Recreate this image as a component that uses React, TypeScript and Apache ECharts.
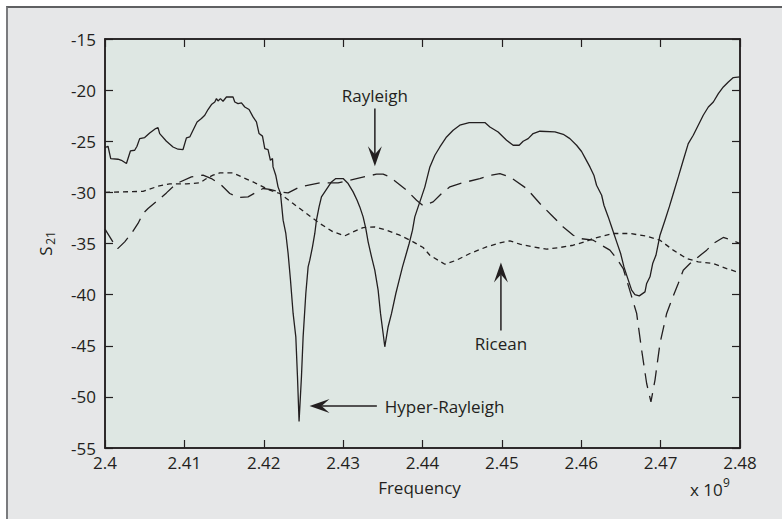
import React, { useEffect, useRef } from "react";
import * as echarts from "echarts";

// Frequency axis (x 10^9 Hz) and S21 axis (dB) tick values
const freqTicks = [2.4, 2.41, 2.42, 2.43, 2.44, 2.45, 2.46, 2.47, 2.48];
const s21Ticks = [-55, -50, -45, -40, -35, -30, -25, -20, -15];

// Measured S21 traces: [frequency (x 10^9 Hz), S21 (dB)]
const hyperRayleigh: [number, number][] = [
  [2.4, -25.62], [2.40038, -25.49], [2.40072, -26.69], [2.40164, -26.76], [2.40207, -26.86],
  [2.4027, -27.18], [2.4032, -25.95], [2.40374, -25.88], [2.40403, -25.49], [2.40437, -24.74],
  [2.405, -24.64], [2.40563, -24.19], [2.40639, -23.76], [2.40668, -23.67], [2.40689, -24.25],
  [2.40774, -25.0], [2.40857, -25.56], [2.4092, -25.78], [2.40983, -25.81], [2.41026, -24.67],
  [2.41068, -24.58], [2.41109, -23.92], [2.4116, -23.11], [2.41215, -22.78], [2.41257, -22.46],
  [2.41298, -21.9], [2.41341, -21.41], [2.41383, -21.16], [2.41404, -20.83], [2.41424, -21.06],
  [2.41454, -20.83], [2.41487, -21.09], [2.4153, -20.67], [2.41613, -20.67], [2.41635, -21.16],
  [2.41676, -21.32], [2.41719, -21.25], [2.41761, -21.65], [2.41815, -21.9], [2.41865, -22.62],
  [2.41908, -23.11], [2.41941, -24.25], [2.41984, -24.5], [2.42013, -25.72], [2.42054, -25.81],
  [2.42084, -26.86], [2.4211, -26.69], [2.42117, -27.51], [2.42151, -28.32], [2.4218, -29.46],
  [2.42211, -30.11], [2.42244, -32.72], [2.42278, -34.02], [2.42307, -35.98], [2.42337, -38.59],
  [2.4237, -41.84], [2.42404, -44.13], [2.42425, -48.04], [2.42445, -52.4], [2.42475, -48.04],
  [2.42496, -44.13], [2.4253, -39.89], [2.42559, -37.29], [2.4258, -36.63], [2.42614, -35.33],
  [2.42643, -34.02], [2.42664, -32.72], [2.42697, -31.42], [2.42727, -30.44], [2.42769, -29.95],
  [2.42811, -29.46], [2.42853, -28.98], [2.42908, -28.65], [2.43, -28.65], [2.43063, -29.14],
  [2.43126, -29.95], [2.43176, -30.77], [2.4321, -31.42], [2.43252, -32.4], [2.43286, -33.54],
  [2.43315, -34.84], [2.43358, -36.31], [2.43399, -37.61], [2.43441, -39.56], [2.43471, -41.84],
  [2.43504, -43.8], [2.43525, -45.1], [2.43567, -43.14], [2.4361, -41.84], [2.43664, -39.89],
  [2.43706, -38.59], [2.43748, -37.29], [2.4379, -36.15], [2.43832, -35.0], [2.43874, -33.7],
  [2.43903, -32.4], [2.43945, -31.42], [2.43988, -30.44], [2.4403, -29.46], [2.44051, -28.8],
  [2.44093, -27.51], [2.44156, -26.37], [2.44219, -25.56], [2.44303, -24.58], [2.44386, -23.92],
  [2.4447, -23.43], [2.44588, -23.17], [2.44786, -23.17], [2.44849, -23.6], [2.44953, -24.09],
  [2.45059, -24.9], [2.45142, -25.39], [2.45218, -25.39], [2.45268, -25.0], [2.45331, -24.74],
  [2.45394, -24.25], [2.45479, -24.02], [2.45668, -24.09], [2.45773, -24.32], [2.45857, -24.74],
  [2.45941, -25.39], [2.46004, -26.0], [2.46046, -26.6], [2.46109, -27.51], [2.46159, -28.32],
  [2.46193, -29.3], [2.46257, -30.28], [2.46286, -31.26], [2.4634, -32.4], [2.46383, -33.38],
  [2.46446, -34.84], [2.46496, -35.98], [2.46538, -37.29], [2.46579, -38.26], [2.46635, -39.56],
  [2.46676, -39.99], [2.46731, -40.12], [2.46803, -39.73], [2.46824, -38.91], [2.46866, -38.26],
  [2.469, -36.96], [2.46941, -36.15], [2.46992, -34.19], [2.47055, -32.72], [2.47109, -31.42],
  [2.4716, -30.11], [2.47223, -28.49], [2.47285, -26.86], [2.47348, -25.23], [2.47411, -24.41],
  [2.47474, -23.43], [2.47537, -22.46], [2.47601, -21.65], [2.47664, -21.16], [2.47727, -20.34],
  [2.4779, -19.69], [2.47853, -19.2], [2.47916, -18.77], [2.48, -18.71],
];

const rayleigh: [number, number][] = [
  [2.4, -33.6], [2.40135, -35.3], [2.4016, -35.5], [2.40248, -34.84], [2.40333, -34.02],
  [2.40416, -33.04], [2.40479, -32.07], [2.40542, -31.58], [2.40668, -30.77], [2.40774, -30.05],
  [2.409, -29.14], [2.41089, -28.49], [2.41235, -28.32], [2.41341, -28.65], [2.41467, -29.3],
  [2.41572, -30.11], [2.41676, -30.5], [2.41802, -30.44], [2.41991, -29.62], [2.42076, -29.7],
  [2.42202, -29.95], [2.42307, -30.05], [2.42454, -29.46], [2.42706, -29.07], [2.42937, -29.07],
  [2.43169, -28.65], [2.43421, -28.22], [2.43504, -28.22], [2.43588, -28.49], [2.43799, -29.79],
  [2.43925, -30.77], [2.44008, -31.3], [2.44134, -30.93], [2.4424, -30.11], [2.44345, -29.46],
  [2.4447, -29.14], [2.44722, -28.65], [2.4487, -28.32], [2.44975, -28.16], [2.45101, -28.49],
  [2.45311, -29.62], [2.45479, -31.09], [2.45626, -32.23], [2.45773, -33.38], [2.45899, -34.19],
  [2.45983, -34.51], [2.46151, -34.68], [2.46361, -35.65], [2.46446, -36.47], [2.46529, -37.45],
  [2.46635, -40.2], [2.46698, -41.84], [2.46761, -45.43], [2.46824, -48.69], [2.46878, -50.48],
  [2.46929, -48.36], [2.46992, -44.77], [2.47076, -41.84], [2.47139, -40.54], [2.47222, -38.91],
  [2.47285, -37.61], [2.4737, -36.96], [2.47474, -36.31], [2.4758, -35.65], [2.47663, -35.0],
  [2.47789, -34.41], [2.47895, -34.68], [2.48, -35.0],
];

const ricean: [number, number][] = [
  [2.4, -30.0], [2.40479, -29.9], [2.40668, -29.4], [2.40815, -29.17], [2.41026, -29.17],
  [2.41194, -29.07], [2.41278, -28.65], [2.41361, -28.32], [2.41446, -28.1], [2.41613, -28.1],
  [2.41739, -28.55], [2.41865, -28.98], [2.4195, -29.3], [2.42076, -29.79], [2.42202, -30.11],
  [2.4237, -31.09], [2.42538, -32.07], [2.42706, -33.04], [2.42874, -33.86], [2.43021, -34.25],
  [2.43126, -33.86], [2.43252, -33.44], [2.43399, -33.38], [2.43547, -33.7], [2.43714, -34.19],
  [2.43882, -34.84], [2.44008, -35.39], [2.44093, -36.15], [2.44282, -37.03], [2.44429, -36.63],
  [2.44597, -35.98], [2.44807, -35.33], [2.44975, -34.94], [2.45101, -34.74], [2.45227, -35.07],
  [2.45394, -35.33], [2.45563, -35.56], [2.4573, -35.39], [2.45899, -35.17], [2.46046, -34.84],
  [2.46151, -34.51], [2.46403, -34.02], [2.46613, -34.02], [2.46824, -34.28], [2.46992, -34.68],
  [2.47159, -35.65], [2.47328, -36.47], [2.47474, -36.79], [2.47663, -36.96], [2.47832, -37.45],
  [2.48, -37.87],
];

// Callouts, placed in data coordinates
type Callout = {
  label: string;
  at: [number, number];
  align: "center" | "left";
  tail: [number, number];
  tip: [number, number];
};
const callouts: Callout[] = [
  { label: "Rayleigh", at: [2.434, -20.5], align: "center", tail: [2.434, -21.8], tip: [2.434, -27.45] },
  { label: "Ricean", at: [2.44988, -44.75], align: "center", tail: [2.44988, -43.5], tip: [2.44988, -36.85] },
  { label: "Hyper-Rayleigh", at: [2.43525, -50.9], align: "left", tail: [2.43425, -50.9], tip: [2.42577, -50.9] },
];

const INK = "#231f20";
const FONT = "'Open Sans', 'Noto Sans', sans-serif";

export default function App() {
  const ref = useRef<HTMLDivElement>(null);

  useEffect(() => {
    if (!ref.current) return;
    const chart = echarts.init(ref.current, null, { renderer: "svg" });

    const xMin = freqTicks[0];
    const xMax = freqTicks[freqTicks.length - 1];
    const xStep = 0.01;
    const yMin = s21Ticks[0];
    const yMax = s21Ticks[s21Ticks.length - 1];
    const yStep = s21Ticks[1] - s21Ticks[0];

    const axisLine = { show: true, lineStyle: { color: INK, width: 1.5 } };
    const axisTick = { show: true, inside: true, length: 8, lineStyle: { color: INK, width: 1.2 } };

    chart.setOption({
      animation: false,
      backgroundColor: "transparent",
      textStyle: { fontFamily: FONT },
      grid: {
        left: 105,
        top: 39,
        right: 42,
        bottom: 71,
        show: true,
        backgroundColor: "#dee7e3",
        borderColor: INK,
        borderWidth: 1.5,
      },
      xAxis: [
        {
          type: "value",
          min: xMin,
          max: xMax,
          interval: xStep,
          position: "bottom",
          axisLine,
          axisTick,
          splitLine: { show: false },
          axisLabel: {
            fontSize: 17,
            color: INK,
            margin: 6,
            fontFamily: FONT,
            formatter: (v: number) => String(+v.toFixed(2)),
          },
          name: "Frequency",
          nameLocation: "middle",
          nameGap: 31,
          nameTextStyle: { fontSize: 17, color: INK, fontFamily: FONT, padding: [0, 6, 0, 0] },
        },
        {
          type: "value",
          min: xMin,
          max: xMax,
          interval: xStep,
          position: "top",
          axisLine,
          axisTick,
          splitLine: { show: false },
          axisLabel: { show: false },
        },
      ],
      yAxis: [
        {
          type: "value",
          min: yMin,
          max: yMax,
          interval: yStep,
          position: "left",
          axisLine,
          axisTick,
          splitLine: { show: false },
          axisLabel: { fontSize: 17, color: INK, margin: 9, fontFamily: FONT },
        },
        {
          type: "value",
          min: yMin,
          max: yMax,
          interval: yStep,
          position: "right",
          axisLine,
          axisTick,
          splitLine: { show: false },
          axisLabel: { show: false },
        },
      ],
      series: [
        {
          name: "Hyper-Rayleigh",
          type: "line",
          data: hyperRayleigh,
          showSymbol: false,
          silent: true,
          lineStyle: { color: INK, width: 1.3, type: "solid" },
        },
        {
          name: "Rayleigh",
          type: "line",
          data: rayleigh,
          showSymbol: false,
          silent: true,
          lineStyle: { color: INK, width: 1.3, type: [15, 8] },
        },
        {
          name: "Ricean",
          type: "line",
          data: ricean,
          showSymbol: false,
          silent: true,
          lineStyle: { color: INK, width: 1.3, type: [5, 4] },
        },
      ],
    });

    const toPx = (p: [number, number]) =>
      chart.convertToPixel({ xAxisIndex: 0, yAxisIndex: 0 }, p) as number[];

    const graphics: any[] = [];
    callouts.forEach((c) => {
      const t = toPx(c.at);
      const a = toPx(c.tail);
      const b = toPx(c.tip);
      const dx = b[0] - a[0];
      const dy = b[1] - a[1];
      const len = Math.hypot(dx, dy);
      const ux = dx / len;
      const uy = dy / len;
      const nx = -uy;
      const ny = ux;
      const headLen = 20;
      const halfW = 7;
      const notch = 12;
      graphics.push({
        type: "line",
        silent: true,
        shape: { x1: a[0], y1: a[1], x2: b[0] - ux * notch, y2: b[1] - uy * notch },
        style: { stroke: INK, lineWidth: 1.5 },
      });
      graphics.push({
        type: "polygon",
        silent: true,
        shape: {
          points: [
            [b[0], b[1]],
            [b[0] - ux * headLen + nx * halfW, b[1] - uy * headLen + ny * halfW],
            [b[0] - ux * notch, b[1] - uy * notch],
            [b[0] - ux * headLen - nx * halfW, b[1] - uy * headLen - ny * halfW],
          ],
        },
        style: { fill: INK },
      });
      graphics.push({
        type: "text",
        silent: true,
        x: t[0],
        y: t[1],
        style: {
          text: c.label,
          fontSize: 17,
          fontFamily: FONT,
          fill: INK,
          textAlign: c.align,
          textVerticalAlign: "middle",
        },
      });
    });

    // y-axis title: S with subscript 21, reading bottom to top
    graphics.push({
      type: "text",
      silent: true,
      x: 45,
      y: 251,
      rotation: Math.PI / 2,
      style: { text: "S", fontSize: 17, fontFamily: FONT, fill: INK, textAlign: "center", textVerticalAlign: "middle" },
    });
    graphics.push({
      type: "text",
      silent: true,
      x: 50,
      y: 238,
      rotation: Math.PI / 2,
      style: { text: "21", fontSize: 12, fontFamily: FONT, fill: INK, textAlign: "center", textVerticalAlign: "middle" },
    });

    // axis multiplier: x 10^9
    graphics.push({
      type: "text",
      silent: true,
      x: 690,
      y: 489,
      style: { text: "x 10", fontSize: 17, fontFamily: FONT, fill: INK, textAlign: "left", textVerticalAlign: "middle" },
    });
    graphics.push({
      type: "text",
      silent: true,
      x: 723,
      y: 482,
      style: { text: "9", fontSize: 12, fontFamily: FONT, fill: INK, textAlign: "left", textVerticalAlign: "middle" },
    });

    chart.setOption({ graphic: graphics });

    return () => chart.dispose();
  }, []);

  return (
    <div style={{ position: "fixed", left: 0, top: 0, width: 782, height: 519, background: "#ffffff" }}>
      <div
        style={{
          position: "absolute",
          left: 6,
          top: 6,
          right: 0,
          bottom: 0,
          background: "#e6e7e8",
          borderTop: "2px solid #5f6062",
          borderLeft: "2px solid #7a7b7e",
        }}
      />
      <div ref={ref} style={{ position: "absolute", left: 0, top: 0, width: 782, height: 519 }} />
    </div>
  );
}
